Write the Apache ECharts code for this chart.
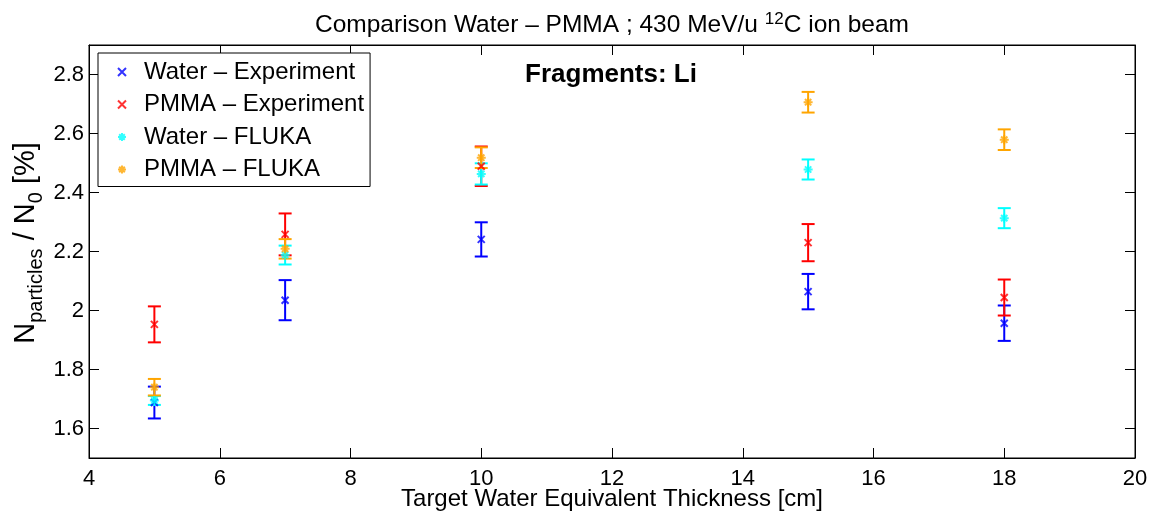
<!DOCTYPE html>
<html>
<head>
<meta charset="utf-8">
<script src="https://cdn.jsdelivr.net/npm/echarts@6/dist/echarts.min.js"></script>
<style>
  html, body { margin: 0; padding: 0; background: #fff; }
  #chart { width: 1156px; height: 515px; }
</style>
</head>
<body>
<div id="chart"></div>
<script>
// Target thickness (water equivalent, cm)
const thickness = [5, 7, 10, 15, 18];

// Li fragment yields N_particles / N_0 [%] and their uncertainties
const waterExp      = [1.688, 2.035, 2.241, 2.064, 1.957];
const waterExpErr   = [0.054, 0.068, 0.058, 0.060, 0.060];
const pmmaExp       = [1.953, 2.258, 2.489, 2.230, 2.044];
const pmmaExpErr    = [0.061, 0.071, 0.067, 0.063, 0.061];
const waterFluka    = [1.695, 2.188, 2.463, 2.478, 2.313];
const waterFlukaErr = [0.015, 0.032, 0.036, 0.034, 0.034];
const pmmaFluka     = [1.740, 2.209, 2.518, 2.706, 2.579];
const pmmaFlukaErr  = [0.028, 0.033, 0.035, 0.035, 0.035];

const xTicks = [4, 6, 8, 10, 12, 14, 16, 18, 20];
const yTicks = [1.6, 1.8, 2.0, 2.2, 2.4, 2.6, 2.8];

const FONT = 'Liberation Sans';
const CROSS = 'path://M0,0L10,10M10,0L0,10';
const STAR = 'path://M5,0L5,10M0,5L10,5M1.5,1.5L8.5,8.5M8.5,1.5L1.5,8.5';

const sets = [
  { name: 'Water \u2013 Experiment', y: waterExp,   e: waterExpErr,   color: '#0000ff', symbol: CROSS, size: 7 },
  { name: 'PMMA \u2013 Experiment',  y: pmmaExp,    e: pmmaExpErr,    color: '#ff0000', symbol: CROSS, size: 7 },
  { name: 'Water \u2013 FLUKA',      y: waterFluka, e: waterFlukaErr, color: '#00ffff', symbol: STAR,  size: 9 },
  { name: 'PMMA \u2013 FLUKA',       y: pmmaFluka,  e: pmmaFlukaErr,  color: '#ffa500', symbol: STAR,  size: 9 }
];

function errorBarSeries(s) {
  return {
    type: 'custom',
    silent: true,
    data: thickness.map((x, i) => [x, s.y[i], s.e[i]]),
    renderItem(params, api) {
      const x = api.value(0), y = api.value(1), e = api.value(2);
      const top = api.coord([x, y + e]);
      const bot = api.coord([x, y - e]);
      const hw = 6.5;
      const style = { stroke: s.color, lineWidth: 2 };
      return {
        type: 'group',
        children: [
          { type: 'line', shape: { x1: top[0], y1: top[1], x2: bot[0], y2: bot[1] }, style },
          { type: 'line', shape: { x1: top[0] - hw, y1: top[1], x2: top[0] + hw, y2: top[1] }, style },
          { type: 'line', shape: { x1: bot[0] - hw, y1: bot[1], x2: bot[0] + hw, y2: bot[1] }, style }
        ]
      };
    },
    z: 2
  };
}

function markerSeries(s) {
  return {
    name: s.name,
    type: 'scatter',
    data: thickness.map((x, i) => [x, s.y[i]]),
    symbol: s.symbol,
    symbolSize: s.size,
    itemStyle: { color: s.color, borderColor: s.color, borderWidth: 2 },
    z: 3
  };
}

const series = [];
sets.forEach(s => { series.push(errorBarSeries(s)); series.push(markerSeries(s)); });

const chart = echarts.init(document.getElementById('chart'), null, { renderer: 'canvas' });

const axisCommon = {
  axisLine: { lineStyle: { color: '#000', width: 1 } },
  axisTick: { inside: true, length: 10, lineStyle: { color: '#000' } },
  splitLine: { show: false }
};

chart.setOption({
  backgroundColor: '#fff',
  animation: false,
  textStyle: { fontFamily: FONT },
  legend: {
    orient: 'vertical',
    left: 98,
    top: 53,
    data: sets.map(s => s.name),
    itemWidth: 34,
    itemHeight: 8,
    itemGap: 8.5,
    padding: [7, 6, 5, 19],
    borderColor: '#000',
    borderWidth: 1,
    backgroundColor: '#fff',
    symbolKeepAspect: true,
    textStyle: { fontFamily: FONT, fontSize: 24, color: '#000', lineHeight: 24 },
    selectedMode: false
  },
  graphic: [{
    // chart title, centred over the plot area
    type: 'text',
    x: 612, y: 25,
    style: {
      text: 'Comparison Water \u2013 PMMA ; 430 MeV/u {sup|12}C ion beam',
      fontFamily: FONT, fontSize: 24.5, fill: '#000', lineHeight: 28,
      align: 'center', verticalAlign: 'middle',
      rich: { sup: { fontFamily: FONT, fontSize: 17, verticalAlign: 'top', lineHeight: 17, fill: '#000' } }
    },
    z: 10
  }, {
    type: 'text',
    x: 611, y: 75,
    style: {
      text: 'Fragments: Li', fontFamily: FONT, fontSize: 26, fontWeight: 'bold', fill: '#000',
      align: 'center', verticalAlign: 'middle'
    },
    z: 10
  }, {
    // y-axis title with subscripts
    type: 'text',
    x: 26, y: 243,
    rotation: Math.PI / 2,
    style: {
      text: 'N{sub|particles} / N{sub|0} [%]',
      fontFamily: FONT, fontSize: 29, fill: '#000', lineHeight: 40,
      align: 'center', verticalAlign: 'middle',
      rich: { sub: { fontFamily: FONT, fontSize: 20, verticalAlign: 'bottom', lineHeight: 20, fill: '#000' } }
    },
    z: 10
  }],
  grid: {
    left: 89, right: 21, top: 45, bottom: 57,
    outerBoundsMode: 'none',
    show: true, borderColor: '#000', borderWidth: 1, backgroundColor: 'transparent'
  },
  xAxis: [{
    type: 'value', min: 4, max: 20, interval: 2,
    name: 'Target Water Equivalent Thickness [cm]',
    nameLocation: 'middle', nameGap: 28, nameMoveOverlap: false,
    nameTextStyle: { fontFamily: FONT, fontSize: 24, color: '#000', lineHeight: 26 },
    axisLabel: { fontFamily: FONT, fontSize: 22, color: '#000', margin: 10, customValues: xTicks },
    ...axisCommon,
    axisTick: { ...axisCommon.axisTick, customValues: xTicks }
  }, {
    type: 'value', min: 4, max: 20, interval: 2, position: 'top',
    axisLabel: { show: false },
    ...axisCommon,
    axisTick: { ...axisCommon.axisTick, customValues: xTicks }
  }],
  yAxis: [{
    type: 'value', min: 1.5, max: 2.9,
    axisLabel: { fontFamily: FONT, fontSize: 22, color: '#000', margin: 5, customValues: yTicks,
      formatter: v => String(Math.round(v * 10) / 10) },
    ...axisCommon,
    axisTick: { ...axisCommon.axisTick, customValues: yTicks }
  }, {
    type: 'value', min: 1.5, max: 2.9, position: 'right',
    axisLabel: { show: false },
    ...axisCommon,
    axisTick: { ...axisCommon.axisTick, customValues: yTicks }
  }],
  series
});
</script>
</body>
</html>
